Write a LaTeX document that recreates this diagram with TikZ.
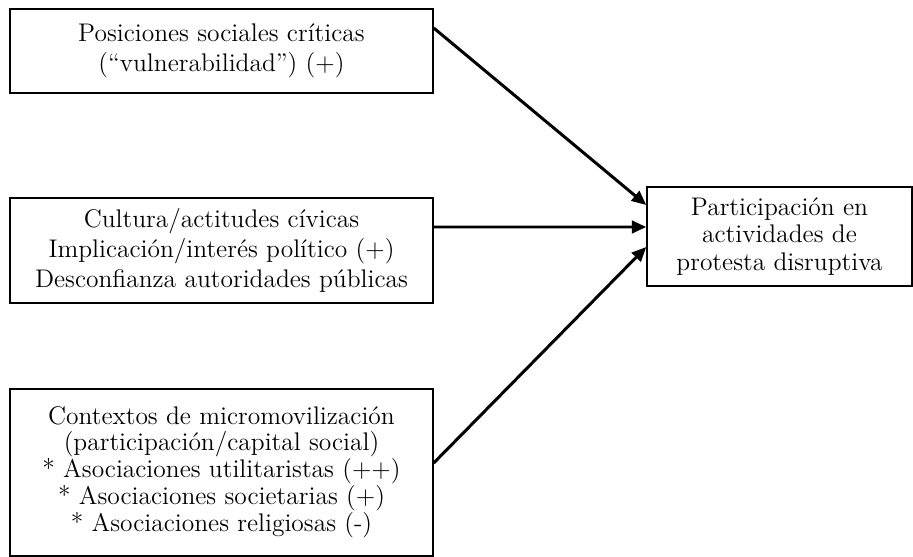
\documentclass[tikz,border=0pt]{standalone}
\usepackage{tikz}
\usetikzlibrary{arrows.meta,positioning,calc}

\begin{document}
\begin{tikzpicture}[->, >={Triangle[length=0.29cm,width=0.25cm]}, x=0.02cm, y=-0.02cm, line width=1.7pt]
	\tikzstyle{factor}=[draw=black,line width=0.85pt,align=center,inner sep=0pt,font=\fontsize{14.5}{17}\selectfont]
	\useasboundingbox (0,0) rectangle (913,557);
	\node[factor, minimum width=8.46cm, minimum height=1.68cm]  at (221.5,51)  (A) {Posiciones sociales críticas\\(“vulnerabilidad”) (+)};
	\node[factor, minimum width=8.46cm, minimum height=2.1cm]    (B) at(221.5,250.5)   {Cultura/actitudes cívicas\\Implicación/interés político (+)\\Desconfianza autoridades públicas};
	\node[factor, minimum width=8.46cm, minimum height=3.34cm, font=\fontsize{14.5}{14.4}\selectfont]    (C)at(221.5,472.5)   {Contextos de micromovilización\\(participación/capital social)\\* Asociaciones utilitaristas (++)\\* Asociaciones societarias (+)\\* Asociaciones religiosas (-)};
	\node[factor, minimum width=5.3cm, minimum height=1.98cm, font=\fontsize{14.5}{15.6}\selectfont]    (D)at(779.5,236.5)   {Participación en\\actividades de\\protesta disruptiva};
	\path
	([yshift=0.46cm]A.east) edge ([yshift=0.63cm]D.west)
	([yshift=0.47cm]B.east) edge ([yshift=0.19cm]D.west)
	([yshift=0.19cm]C.east) edge ([yshift=-0.21cm]D.west);
	\end{tikzpicture}
\end{document}
